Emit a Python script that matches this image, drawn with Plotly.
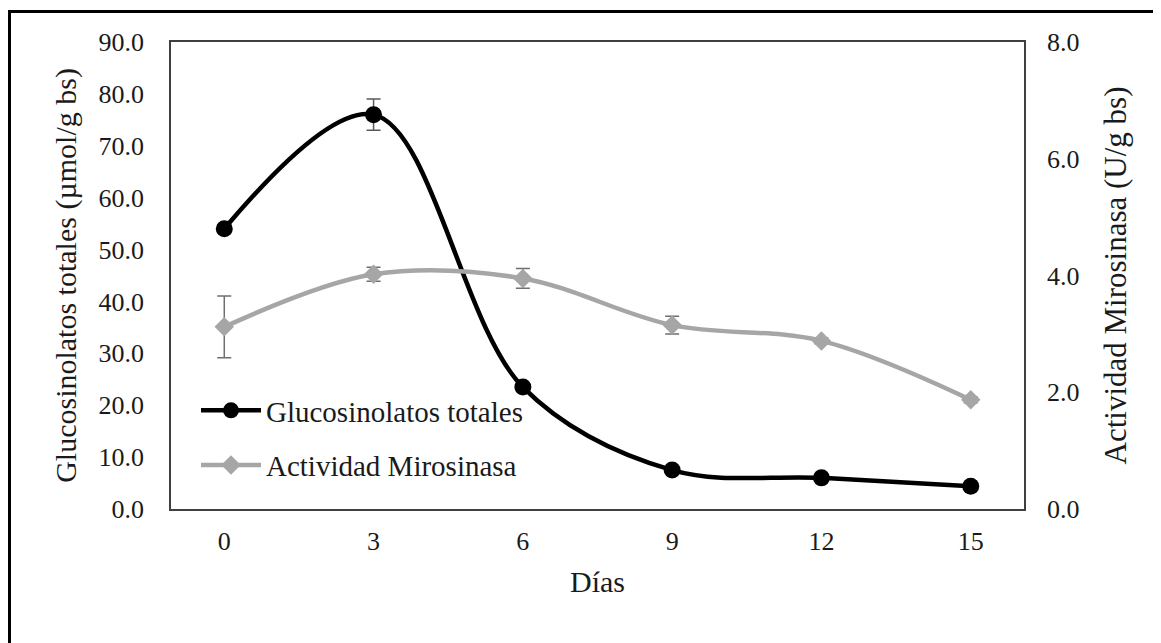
import plotly.graph_objects as go

dias = ["0", "3", "6", "9", "12", "15"]
glucosinolatos = [54.0, 76.0, 23.5, 7.5, 6.0, 4.4]
glucosinolatos_err = [0.8, 3.0, 0.8, 0.5, 0.5, 0.5]
mirosinasa = [3.12, 4.02, 3.95, 3.15, 2.88, 1.87]
mirosinasa_err = [0.53, 0.12, 0.17, 0.15, 0.05, 0.05]

FONT = "Liberation Serif"
TXT = "#1a1a1a"

fig = go.Figure()
fig.add_trace(go.Scatter(
    x=dias, y=glucosinolatos, name="Glucosinolatos totales",
    mode="lines+markers", legendgroup="g1",
    line=dict(color="#000000", width=4.5, shape="spline", smoothing=1),
    marker=dict(symbol="circle", size=17, color="#000000"),
    error_y=dict(type="data", array=glucosinolatos_err, color="#595959", thickness=1.5, width=7),
    yaxis="y",
))
fig.add_trace(go.Scatter(
    x=dias, y=mirosinasa, name="Actividad Mirosinasa",
    mode="lines+markers", legendgroup="g2",
    line=dict(color="#A6A6A6", width=4.5, shape="spline", smoothing=1),
    marker=dict(symbol="diamond", size=15, color="#A6A6A6"),
    error_y=dict(type="data", array=mirosinasa_err, color="#6f6f6f", thickness=1.5, width=7),
    yaxis="y2",
))

# page has an 8px body margin: figure origin sits at page (8, 8)
OFF = 8
W, H = 1161 - OFF, 643 - OFF
L, R, T, B = 171 - OFF, 1024 - OFF, 42 - OFF, 509 - OFF

def px_x(p):
    return (p - OFF - L) / (R - L)

def px_y(p):
    return (B - (p - OFF)) / (B - T)

fig.update_layout(
    width=W, height=H,
    margin=dict(l=L, r=W - R, t=T, b=H - B),
    paper_bgcolor="white", plot_bgcolor="white",
    font=dict(family=FONT, size=26, color=TXT),
    xaxis=dict(
        type="category", showgrid=False, zeroline=False,
        showline=True, linecolor="#404040", linewidth=1.5, mirror=True,
        ticks="", ticklabelstandoff=8,
        tickfont=dict(family=FONT, size=26, color=TXT),
        title=dict(text="Días", font=dict(family=FONT, size=30, color=TXT), standoff=16),
    ),
    yaxis=dict(
        range=[0, 90], dtick=10, tickformat=".1f", showgrid=False, zeroline=False,
        showline=True, linecolor="#404040", linewidth=1.5, mirror=True,
        ticks="", ticklabelstandoff=20,
        tickfont=dict(family=FONT, size=26, color=TXT),
        title=dict(text="Glucosinolatos totales (µmol/g bs)", font=dict(family=FONT, size=30, color=TXT), standoff=13),
    ),
    yaxis2=dict(
        range=[0, 8], dtick=2, tickformat=".1f", showgrid=False, zeroline=False,
        overlaying="y", side="right", showline=False,
        ticks="", ticklabelstandoff=22,
        tickfont=dict(family=FONT, size=26, color=TXT),
        title=dict(text="Actividad Mirosinasa (U/g bs)", font=dict(family=FONT, size=31, color=TXT), standoff=25),
    ),
    showlegend=True,
    legend=dict(
        x=px_x(196), y=px_y(385), xanchor="left", yanchor="top",
        bgcolor="rgba(0,0,0,0)", traceorder="grouped", tracegroupgap=14,
        font=dict(family=FONT, size=29, color=TXT), itemwidth=60,
    ),
    shapes=[dict(
        type="rect", xref="paper", yref="paper",
        x0=px_x(9.5), x1=px_x(1180), y0=px_y(11.5), y1=px_y(680),
        line=dict(color="#000000", width=3), fillcolor="rgba(0,0,0,0)", layer="below",
    )],
)

fig.write_html("out.html")
